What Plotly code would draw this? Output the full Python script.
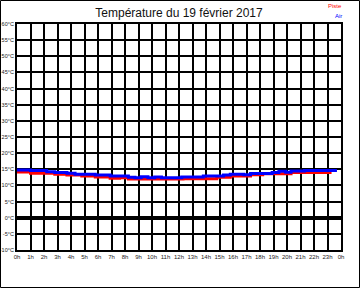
import plotly.graph_objects as go

# Data (hours, °C) – step series
air_t = [0.0, 1.0, 2.2, 2.8, 3.7, 4.3, 5.8, 6.9, 8.25, 8.74, 9.2, 9.7, 10.2, 10.7,
         12.2, 13.8, 15.3, 15.8, 16.8, 17.3, 18.9, 19.4, 19.9, 20.3, 21.3, 23.7]
air_v = [14.8, 14.6, 14.2, 14.0, 13.8, 13.5, 13.2, 12.9, 12.5, 12.4, 12.7, 12.4, 12.6, 12.4,
         12.6, 12.9, 13.2, 13.5, 13.3, 13.7, 14.0, 14.4, 14.1, 14.5, 14.6, 14.6]

piste_t = [0.0, 1.0, 2.8, 3.7, 4.8, 5.8, 6.9, 7.6, 8.25, 12.3, 14.8, 15.8, 17.3, 18.2, 20.3, 23.3]
piste_v = [14.15, 13.8, 13.5, 13.2, 12.9, 12.6, 12.2, 12.4, 12.0, 12.1, 12.5, 12.9, 13.3, 13.6, 14.0, 14.0]

x_tickvals = list(range(0, 25))
x_ticktext = [f"{h}h" for h in range(24)] + ["0h"]
y_tickvals = list(range(-10, 65, 5))
y_ticktext = [f"{v}°C" for v in y_tickvals]

title_text = "Température du 19 février 2017"
legend_items = [("Piste", "#FF0000"), ("Air", "#0000FF")]

fig = go.Figure()
fig.add_trace(go.Scatter(x=piste_t, y=piste_v, mode="lines", line=dict(color="#FF0000", width=3, shape="hv"),
                         name="Piste", showlegend=False))
fig.add_trace(go.Scatter(x=air_t, y=air_v, mode="lines", line=dict(color="#0000FF", width=3, shape="hv"),
                         name="Air", showlegend=False))

L, R, T, B = 17, 19, 24, 38
W, H = 360, 288
pw, ph = W - L - R, H - T - B

fig.update_layout(
    width=W, height=H,
    margin=dict(l=L, r=R, t=T, b=B, autoexpand=False),
    paper_bgcolor="white", plot_bgcolor="white",
    font=dict(family="Liberation Sans, Arial, sans-serif", color="black"),
    title=dict(text=title_text, x=(L + pw / 2) / W, xanchor="center", y=1 - 13 / H, yanchor="middle",
               yref="container", font=dict(size=12, color="#111")),
    xaxis=dict(range=[0, 24], tickvals=x_tickvals, ticktext=x_ticktext, showgrid=True,
               gridcolor="black", gridwidth=2, showline=True, linecolor="black", linewidth=2,
               mirror=True, zeroline=False, ticks="", automargin=False,
               tickfont=dict(size=6, color="#222")),
    yaxis=dict(range=[-10, 60], tickvals=y_tickvals, ticktext=y_ticktext, showgrid=True,
               gridcolor="black", gridwidth=2, showline=True, linecolor="black", linewidth=2,
               mirror=True, zeroline=True, zerolinecolor="black", zerolinewidth=4, ticks="",
               automargin=False, tickfont=dict(size=5.5, color="#222")),
)

# legend texts
for i, (name, col) in enumerate(legend_items):
    fig.add_annotation(text=name, xref="paper", yref="paper",
                       x=(344 - L) / pw, y=(H - B - (6 + 10 * i)) / ph,
                       xanchor="right", yanchor="middle", showarrow=False,
                       font=dict(size=6, color=col))

# outer border
fig.add_shape(type="rect", xref="paper", yref="paper",
              x0=(0.5 - L) / pw, x1=(W - 0.5 - L) / pw,
              y0=(H - B - (H - 0.5)) / ph, y1=(H - B - 0.5) / ph,
              line=dict(color="black", width=1), fillcolor="rgba(0,0,0,0)", layer="above")

fig.write_html("out.html")
